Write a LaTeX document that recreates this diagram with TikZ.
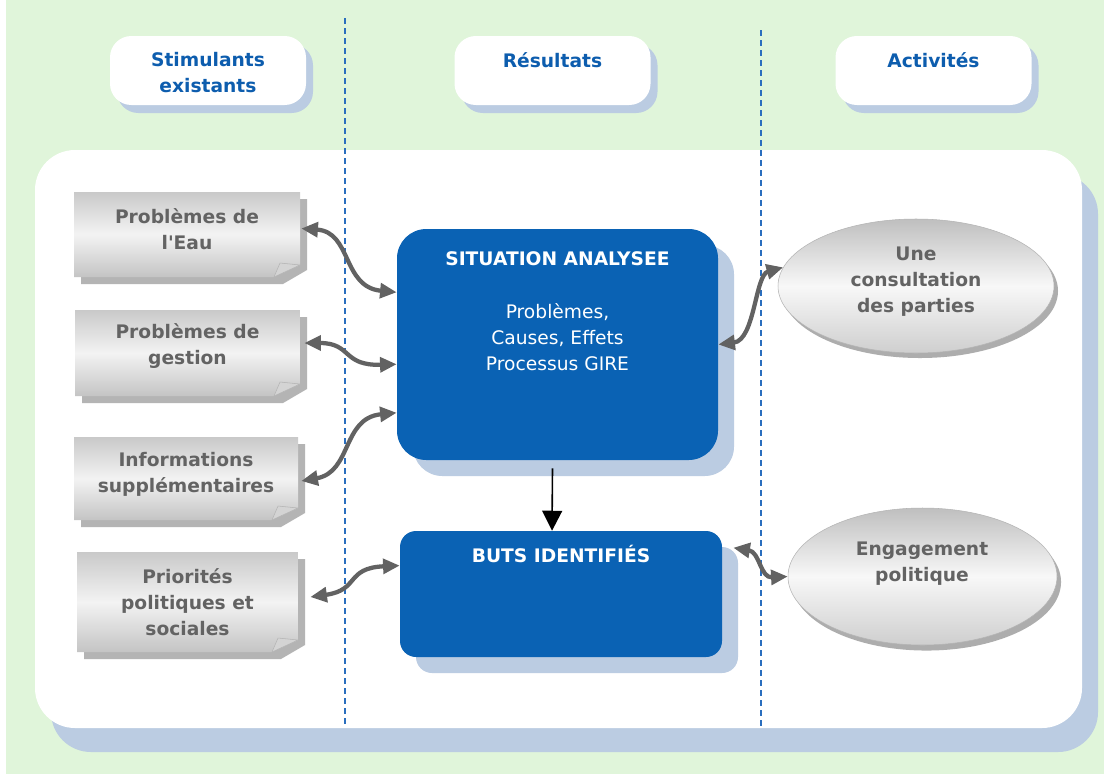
\documentclass[tikz,border=0pt]{standalone}
\usepackage{fontspec}
\setmainfont{DejaVu Sans}
\usetikzlibrary{arrows.meta,calc,positioning,shapes.geometric,shadows}

\definecolor{bggreen}{HTML}{E0F5DA}
\definecolor{shblue}{HTML}{BBCCE2}
\definecolor{boxblue}{HTML}{0A62B4}
\definecolor{hdblue}{HTML}{0D5DAE}
\definecolor{dashblue}{HTML}{2A6EBE}
\definecolor{txtgray}{HTML}{636363}
\definecolor{arrgray}{HTML}{626262}
\definecolor{docsh}{HTML}{B4B4B4}
\definecolor{docTop}{HTML}{C9C9C9}
\definecolor{docMid}{HTML}{F3F3F3}
\definecolor{docBot}{HTML}{C4C4C4}
\definecolor{ellsh}{HTML}{ADADAD}

\tikzset{
  txt/.style={font=\fontsize{14}{19.5}\selectfont, align=center, inner sep=0pt},
  sep/.style={dashblue, line width=0.8pt, dash pattern=on 4.5pt off 3pt},
  hdbox/.style={fill=white, rounded corners=16pt, minimum width=147pt, minimum height=51.75pt,
    drop shadow={shadow xshift=5.25pt, shadow yshift=-6pt, fill=shblue, opacity=1}},
  hdtext/.style={txt, text=hdblue, font=\fontsize{14}{19.5}\selectfont\bfseries},
  bluebox/.style={fill=boxblue, drop shadow={shadow xshift=12pt, shadow yshift=-12pt, fill=shblue, opacity=1}},
  bluetext/.style={txt, text=white},
  docfill/.style={top color=docTop, bottom color=docBot, middle color=docMid},
  fold/.style={fill=docTop!80!white, draw=docsh, line width=0.4pt},
  doctext/.style={txt, text=txtgray, font=\fontsize{14}{19.5}\selectfont\bfseries},
  oval/.style={ellipse, draw=docsh, line width=0.4pt, top color=docTop!95!black, bottom color=docTop!90!white, middle color=docMid!60!white},
  link/.style={draw=arrgray, line width=3.2pt, {Triangle[length=12.5pt,width=11pt]}-{Triangle[length=12.5pt,width=11pt]}},
}

\begin{document}
\begin{tikzpicture}[x=0.75pt,y=-0.75pt,line join=round]
\useasboundingbox (0,0) rectangle (1112,776);
% background and panel
\fill[bggreen] (6,0) rectangle (1104,774);
\fill[shblue, rounded corners=30pt] (51,174) rectangle (1098,752);
\fill[white, rounded corners=30pt] (35,150) rectangle (1082,728);
\draw[sep] (345,18) -- (345,728);
\draw[sep] (761,30) -- (761,726);

% column heads
\node[hdbox] (h1) at (208,70.5) {};
\node[hdbox] (h2) at (552.5,70.5) {};
\node[hdbox] (h3) at (933.5,70.5) {};
\node[hdtext, below=12.5pt of h1.north] (h1t) {Stimulants\\existants};
\node[hdtext, below=12.5pt of h2.north] (h2t) {Résultats};
\node[hdtext, below=12.5pt of h3.north] (h3t) {Activités};

% stimulants
\foreach \n/\x/\y/\w/\h/\dy/\txt in {
  pb1/74/192/226/85/5/{Problèmes de\\l\textquotesingle Eau},
  pb2/75/310/225/86/7/{Problèmes de\\gestion},
  pb3/74/437/224/83/4/{Informations\\supplémentaires},
  pb4/77/552/221/100/0/{Priorités\\politiques et\\sociales}}{
  \fill[docsh] (\x+7,\y+7) -- (\x+\w+7,\y+7) -- (\x+\w+7,\y+\h-7) -- (\x+\w-17,\y+\h+7) -- (\x+7,\y+\h+7) -- cycle;
  \shade[docfill] (\x,\y) -- (\x+\w,\y) -- (\x+\w,\y+\h-12) -- (\x+\w-26,\y+\h) -- (\x,\y+\h) -- cycle;
  \filldraw[fold] (\x+\w,\y+\h-12) -- (\x+\w-26,\y+\h) -- (\x+\w-20,\y+\h-14) -- cycle;
  \node[doctext, minimum width=\w*0.75pt, minimum height=\h*0.75pt] (\n) at (\x+\w/2,\y+\h/2-\dy) {\txt};
}

% results
\node[bluebox, rounded corners=22pt, minimum width=240.75pt, minimum height=173.25pt] (sit) at (557.5,344.5) {};
\node[bluetext, below=17pt of sit.north] (sit-t) {{\bfseries SITUATION ANALYSEE}\\[20pt]Problèmes,\\Causes, Effets\\Processus GIRE};
\node[bluebox, rounded corners=12pt, minimum width=241.5pt, minimum height=94.5pt] (buts) at (561,594) {};
\node[bluetext, font=\fontsize{14}{19.5}\selectfont\bfseries, below=10.5pt of buts.north] (buts-t) {BUTS IDENTIFIÉS};

% activities
\fill[ellsh] (920,291) ellipse [x radius=103.5pt, y radius=50.25pt];
\node[oval, minimum width=207pt, minimum height=100.5pt] (con) at (916,286) {};
\node[doctext] (con-t) at (916,282) {Une\\consultation\\des parties};
\fill[ellsh] (926.5,582) ellipse [x radius=100.9pt, y radius=51.4pt];
\node[oval, minimum width=201.75pt, minimum height=102.75pt] (eng) at (922.5,576.5) {};
\node[doctext] (eng-t) at (922,564) {Engagement\\politique};

% links
\draw[link] ($(pb1.east)+(1,-1)$) .. controls (352,232) and (342,287) .. (sit.162);
\draw[link] ($(pb2.east)+(4,-3)$) .. controls (352,343) and (342,366) .. (sit.187);
\draw[link] ($(pb3.east)+(3,6.5)$) .. controls (352,472) and (342,418) .. (sit.203);
\draw[link] ($(pb4.east)+(12,-5)$) .. controls (360,590) and (345,568) .. (buts.170);
\draw[link] (con.172) .. controls (755,275) and (755,340) .. (sit.east);
\draw[link] ($(buts.north east)+(11,17)$) .. controls (760,552) and (760,578) .. (eng.west);
\draw[line width=1.2pt, -{Triangle[length=15pt,width=15pt]}] ($(sit.south)+(-5,8)$) -- ($(buts.north)+(-9,0)$);
\end{tikzpicture}
\end{document}
